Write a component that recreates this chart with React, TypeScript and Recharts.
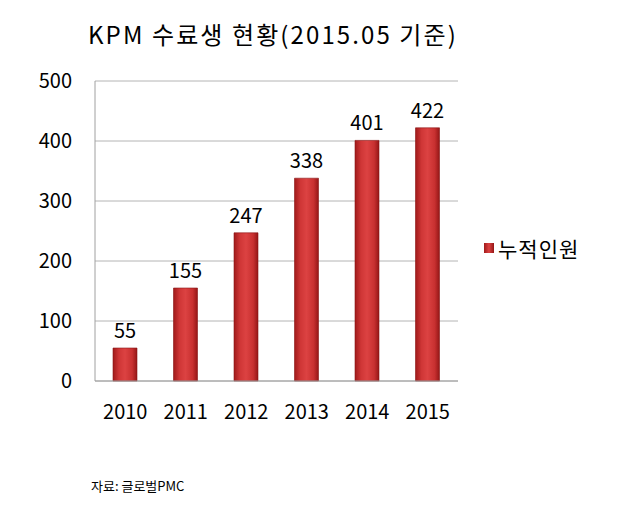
import { BarChart, Bar, XAxis, YAxis, CartesianGrid, LabelList } from 'recharts'

// KPM 수료생 현황 (2015.05 기준), 누적인원
const years = ['2010', '2011', '2012', '2013', '2014', '2015']
const totals = [55, 155, 247, 338, 401, 422]
const yTicks = [0, 100, 200, 300, 400, 500]
const seriesName = '누적인원'

const data = years.map((year, i) => ({ year, total: totals[i] }))

const font = '"Noto Sans CJK KR", "Noto Sans", sans-serif'

export default function App() {
  return (
    <div style={{ position: 'absolute', left: 0, top: 0, width: 618, height: 511, background: '#fff', fontFamily: font }}>
      <div style={{ position: 'absolute', left: 88, top: 17, fontSize: 24, letterSpacing: 2.1, color: '#000', whiteSpace: 'nowrap', lineHeight: '34px' }}>
        KPM 수료생 현황(2015.05 기준)
      </div>
      <BarChart
        width={618}
        height={511}
        data={data}
        margin={{ top: 81, right: 160, bottom: 100, left: 0 }}
        barSize={24}
      >
        <defs>
          <linearGradient id="barFill" x1="0" y1="0" x2="1" y2="0">
            <stop offset="0%" stopColor="#a01a1a" />
            <stop offset="25%" stopColor="#cf3636" />
            <stop offset="50%" stopColor="#dc4242" />
            <stop offset="80%" stopColor="#c83030" />
            <stop offset="100%" stopColor="#941616" />
          </linearGradient>
        </defs>
        <CartesianGrid vertical={false} stroke="#b4b4b4" />
        <XAxis
          dataKey="year"
          height={30}
          interval={0}
          stroke="#a0a0a0"
          tickLine={false}
          tickSize={6}
          tickMargin={18}
          tick={{ fill: '#000', fontSize: 20, fontFamily: font }}
        />
        <YAxis
          width={95}
          domain={[0, 500]}
          ticks={yTicks}
          stroke="#a0a0a0"
          tickLine={false}
          tickSize={6}
          tickMargin={17}
          tick={{ fill: '#000', fontSize: 20, fontFamily: font }}
        />
        <Bar dataKey="total" name={seriesName} fill="url(#barFill)" stroke="#8a1414" strokeWidth={0.6} isAnimationActive={false}>
          <LabelList dataKey="total" position="top" offset={10} fill="#000" fontSize={20} fontFamily={font} />
        </Bar>
      </BarChart>
      <div style={{ position: 'absolute', left: 484, top: 234, display: 'flex', alignItems: 'center', whiteSpace: 'nowrap' }}>
        <span style={{ display: 'inline-block', width: 10, height: 10, background: 'linear-gradient(90deg,#a01a1a,#dc4242,#941616)', marginRight: 4 }} />
        <span style={{ fontSize: 21, letterSpacing: 1, color: '#000', lineHeight: '28px' }}>{seriesName}</span>
      </div>
      <div style={{ position: 'absolute', left: 91, top: 476, fontSize: 13, color: '#000', whiteSpace: 'nowrap' }}>
        자료: 글로벌PMC
      </div>
    </div>
  )
}
